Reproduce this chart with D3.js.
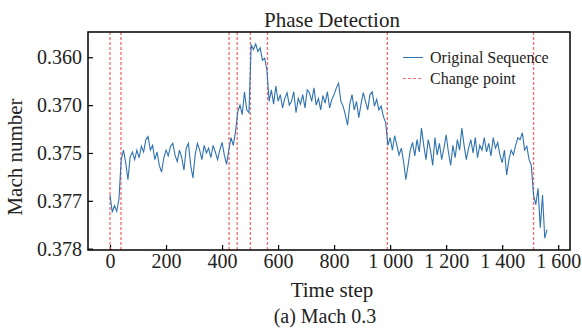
<!DOCTYPE html>
<html>
<head>
<meta charset="utf-8">
<script src="https://cdn.jsdelivr.net/npm/d3@7"></script>
<style>
  body { margin: 0; background: #fff; }
  text { font-family: "Liberation Serif", "Times New Roman", serif; fill: #222; }
</style>
</head>
<body>
<div id="chart"></div>
<script>
// sampled series (every 8 time steps), Mach number
var stepSize = 8;
var machValues = [
  0.3744, 0.3762, 0.3755, 0.3761, 0.3748, 0.3707, 0.3697, 0.3710, 0.3728, 0.3704,
  0.3699, 0.3707, 0.3697, 0.3705, 0.3693, 0.3699, 0.3686, 0.3683, 0.3697, 0.3692,
  0.3707, 0.3699, 0.3713, 0.3720, 0.3705, 0.3697, 0.3703, 0.3693, 0.3690, 0.3702,
  0.3709, 0.3697, 0.3705, 0.3718, 0.3695, 0.3690, 0.3713, 0.3726, 0.3702, 0.3690,
  0.3697, 0.3707, 0.3692, 0.3700, 0.3695, 0.3705, 0.3692, 0.3699, 0.3707, 0.3697,
  0.3689, 0.3702, 0.3712, 0.3697, 0.3684, 0.3692, 0.3678, 0.3657, 0.3650, 0.3660,
  0.3636, 0.3655, 0.3658, 0.3587, 0.3592, 0.3586, 0.3594, 0.3590, 0.3603, 0.3601,
  0.3613, 0.3646, 0.3634, 0.3649, 0.3630, 0.3646, 0.3639, 0.3653, 0.3643, 0.3637,
  0.3650, 0.3646, 0.3636, 0.3658, 0.3643, 0.3649, 0.3639, 0.3653, 0.3634, 0.3637,
  0.3646, 0.3632, 0.3650, 0.3643, 0.3655, 0.3640, 0.3648, 0.3636, 0.3653, 0.3644,
  0.3639, 0.3632, 0.3627, 0.3646, 0.3651, 0.3660, 0.3671, 0.3649, 0.3639, 0.3655,
  0.3646, 0.3663, 0.3649, 0.3637, 0.3646, 0.3655, 0.3639, 0.3636, 0.3651, 0.3644,
  0.3655, 0.3651, 0.3662, 0.3668, 0.3692, 0.3684, 0.3697, 0.3682, 0.3692, 0.3702,
  0.3695, 0.3709, 0.3728, 0.3713, 0.3697, 0.3689, 0.3703, 0.3686, 0.3699, 0.3674,
  0.3692, 0.3707, 0.3686, 0.3697, 0.3713, 0.3684, 0.3702, 0.3690, 0.3707, 0.3695,
  0.3681, 0.3699, 0.3713, 0.3692, 0.3705, 0.3686, 0.3697, 0.3674, 0.3692, 0.3707,
  0.3695, 0.3686, 0.3700, 0.3684, 0.3705, 0.3692, 0.3697, 0.3684, 0.3699, 0.3690,
  0.3703, 0.3684, 0.3695, 0.3689, 0.3702, 0.3710, 0.3697, 0.3723, 0.3707, 0.3697,
  0.3702, 0.3692, 0.3684, 0.3686, 0.3679, 0.3697, 0.3693, 0.3707, 0.3713, 0.3744,
  0.3754, 0.3737, 0.3778, 0.3744, 0.3789, 0.3780
];
var changePoints = [0, 39, 425, 454, 501, 562, 990, 1512];
var xTicks = [0, 200, 400, 600, 800, 1000, 1200, 1400, 1600];
var yTicks = [0.360, 0.365, 0.370, 0.375, 0.380];
var yTickLabels = ["0.360", "0.370", "0.375", "0.377", "0.378"];

var data = machValues.map(function(v, i) { return { step: i * stepSize, mach: v }; });

var margin = {top: 32, right: 12, bottom: 81, left: 88},
    width = 582 - margin.left - margin.right,
    height = 331 - margin.top - margin.bottom;

var svg = d3.select("#chart")
  .append("svg")
    .attr("width", 582)
    .attr("height", 331)
  .append("g")
    .attr("transform", "translate(" + margin.left + "," + margin.top + ")");

var x = d3.scaleLinear()
  .domain([-78.6, 1642.1])
  .range([0, width]);

// inverted axis: small Mach at top
var y = d3.scaleLinear()
  .domain([0.35736, 0.38014])
  .range([0, height]);

var fmt = d3.formatLocale({decimal: ".", thousands: " ", grouping: [3], currency: ["", ""]}).format(",");

// x axis
var xAxis = svg.append("g")
  .attr("transform", "translate(0," + height + ")")
  .call(d3.axisBottom(x).tickValues(xTicks).tickFormat(fmt).tickSizeInner(-5).tickSizeOuter(0).tickPadding(4));
xAxis.selectAll("text").style("font-size", "20px");

// y axis
var yAxis = svg.append("g")
  .call(d3.axisLeft(y).tickValues(yTicks)
    .tickFormat(function(d, i) { return yTickLabels[i]; })
    .tickSizeInner(-5).tickSizeOuter(0).tickPadding(6));
yAxis.selectAll("text").style("font-size", "20px");

svg.selectAll(".domain").remove();
svg.selectAll(".tick line").attr("stroke", "#000").attr("stroke-width", 1.2);

// change points
svg.selectAll(".cp")
  .data(changePoints)
  .enter().append("line")
    .attr("x1", function(d) { return x(d); })
    .attr("x2", function(d) { return x(d); })
    .attr("y1", 0)
    .attr("y2", height)
    .attr("stroke", "#f26d6d")
    .attr("stroke-width", 1.3)
    .attr("stroke-dasharray", "3,2");

// the series
svg.append("path")
  .datum(data)
  .attr("fill", "none")
  .attr("stroke", "#2f72b0")
  .attr("stroke-width", 1.1)
  .attr("d", d3.line()
    .x(function(d) { return x(d.step); })
    .y(function(d) { return y(d.mach); }));

// frame
svg.append("rect")
  .attr("width", width)
  .attr("height", height)
  .attr("fill", "none")
  .attr("stroke", "#000")
  .attr("stroke-width", 1.5);

// legend
var legend = svg.append("g").attr("transform", "translate(315,25.5)");
legend.append("line")
  .attr("x1", 0).attr("x2", 20).attr("y1", 0).attr("y2", 0)
  .attr("stroke", "#2f72b0").attr("stroke-width", 1);
legend.append("text").attr("x", 27).attr("y", 5).style("font-size", "16px").text("Original Sequence");
legend.append("line")
  .attr("x1", 0).attr("x2", 20).attr("y1", 21).attr("y2", 21)
  .attr("stroke", "#f26d6d").attr("stroke-width", 1.2).attr("stroke-dasharray", "3,2");
legend.append("text").attr("x", 27).attr("y", 26).style("font-size", "16px").text("Change point");

// title
svg.append("text")
  .attr("x", width / 2 + 3)
  .attr("y", -5)
  .style("text-anchor", "middle")
  .style("font-size", "21px")
  .text("Phase Detection");

// axis labels
svg.append("text")
  .attr("transform", "translate(" + (width / 2 + 3) + "," + (height + 47) + ")")
  .style("text-anchor", "middle")
  .style("font-size", "21px")
  .text("Time step");

svg.append("text")
  .attr("transform", "rotate(-90)")
  .attr("x", -125)
  .attr("y", -66)
  .style("text-anchor", "middle")
  .style("font-size", "21px")
  .text("Mach number");

// caption
svg.append("text")
  .attr("x", width / 2 - 4)
  .attr("y", height + 73)
  .style("text-anchor", "middle")
  .style("font-size", "20px")
  .text("(a) Mach 0.3");
</script>
</body>
</html>
